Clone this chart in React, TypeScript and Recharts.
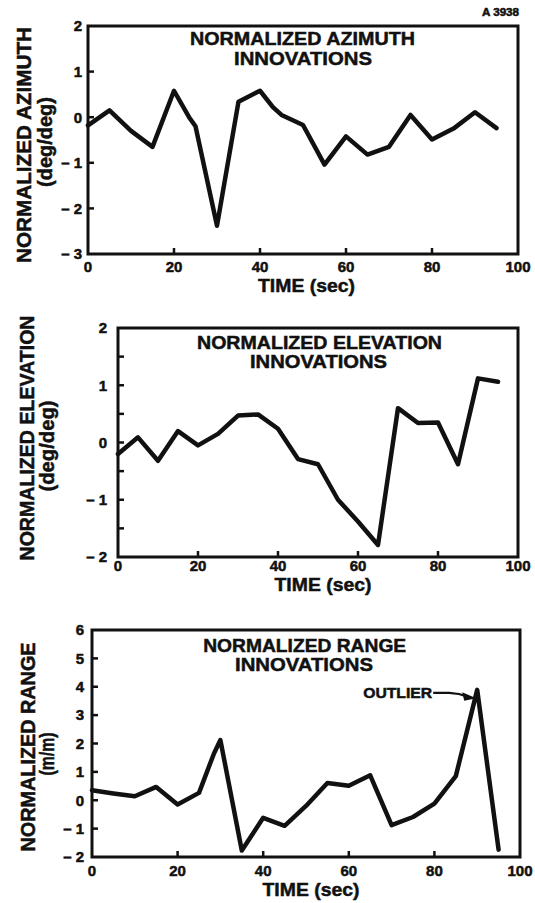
import React from 'react';
import { LineChart, Line, XAxis, YAxis, ReferenceArea, ReferenceDot } from 'recharts';

const FONT = '"Liberation Sans", Arial, Helvetica, sans-serif';
const INK = '#111';

// ---- shared time axis ----
const timeTicks = [0, 20, 40, 60, 80, 100];

// ---- azimuth innovations ----
const azimuthTimes = [0, 5, 10, 15, 20, 23.5, 25, 30, 35, 40, 43, 45, 50, 55, 60, 65, 70, 75, 80, 85, 90, 95];
const azimuthValues = [-0.18, 0.15, -0.3, -0.65, 0.58, 0.0, -0.2, -2.38, 0.34, 0.58, 0.22, 0.05, -0.17, -1.04, -0.42, -0.82, -0.65, 0.05, -0.49, -0.25, 0.11, -0.24];
const azimuthTicks = [-3, -2, -1, 0, 1, 2];

// ---- elevation innovations ----
const elevationTimes = [0, 5, 10, 15, 20, 25, 30, 35, 40, 45, 50, 55, 60, 65, 70, 75, 80, 85, 90, 95];
const elevationValues = [-0.2, 0.09, -0.32, 0.2, -0.05, 0.15, 0.47, 0.49, 0.24, -0.29, -0.38, -1.0, -1.38, -1.79, 0.6, 0.34, 0.35, -0.38, 1.12, 1.06];
const elevationTicks = [-2, -1.5, -1, -0.5, 0, 0.5, 1, 1.5, 2];

// ---- range innovations ----
const rangeTimes = [0, 5, 10, 15, 20, 25, 28.5, 30, 35, 40, 45, 50, 55, 60, 65, 70, 75, 80, 85, 90, 95];
const rangeValues = [0.35, 0.24, 0.14, 0.47, -0.15, 0.26, 1.65, 2.12, -1.77, -0.62, -0.9, -0.2, 0.61, 0.51, 0.88, -0.88, -0.59, -0.12, 0.85, 3.89, -1.74];
const rangeTicks = [-2, -1, 0, 1, 2, 3, 4, 5, 6];
const outlierTime = 90;
const outlierLabel = 'OUTLIER';

const fmt = (v: number) => (v < 0 ? `\u2013 ${-v}` : `${v}`);

type Layout = {
  top: number;
  height: number;
  plotLeft: number;
  plotTop: number;
  plotRight: number;
  plotBottom: number;
  yTickGap: number;
  xTickBase: number;
  xTitleBase: number;
  xTitleDx: number;
  titleDx: [number, number];
  titleBase: [number, number];
  titleLen: [number, number];
  yTitleX: [number, number];
  yTitleY: [number, number];
  yTitleLen: [number, number];
};

type Spec = {
  times: number[];
  values: number[];
  domain: [number, number];
  ticks: number[];
  title: [string, string];
  yTitle: [string, string];
  layout: Layout;
  outlier?: boolean;
  tag?: string;
};

const specs: Spec[] = [
  {
    times: azimuthTimes,
    values: azimuthValues,
    domain: [-3, 2],
    ticks: azimuthTicks,
    title: ['NORMALIZED AZIMUTH', 'INNOVATIONS'],
    yTitle: ['NORMALIZED AZIMUTH', '(deg/deg)'],
    tag: 'A 3938',
    layout: {
      top: 0, height: 300, plotLeft: 88, plotTop: 26, plotRight: 518, plotBottom: 254,
      yTickGap: 6, xTickBase: 18, xTitleBase: 38, xTitleDx: 3.5,
      titleDx: [214.5, 215], titleBase: [19, 39], titleLen: [225, 138],
      yTitleX: [24, 45], yTitleY: [145, 142], yTitleLen: [236, 90],
    },
  },
  {
    times: elevationTimes,
    values: elevationValues,
    domain: [-2, 2],
    ticks: elevationTicks,
    title: ['NORMALIZED ELEVATION', 'INNOVATIONS'],
    yTitle: ['NORMALIZED ELEVATION', '(deg/deg)'],
    layout: {
      top: 300, height: 300, plotLeft: 118, plotTop: 28, plotRight: 518, plotBottom: 257,
      yTickGap: 11, xTickBase: 14, xTitleBase: 34, xTitleDx: 5,
      titleDx: [201.5, 200.5], titleBase: [21, 40], titleLen: [245, 137],
      yTitleX: [27, 47], yTitleY: [138, 146], yTitleLen: [245, 91],
    },
  },
  {
    times: rangeTimes,
    values: rangeValues,
    domain: [-2, 6],
    ticks: rangeTicks,
    title: ['NORMALIZED RANGE', 'INNOVATIONS'],
    yTitle: ['NORMALIZED RANGE', '(m/m)'],
    outlier: true,
    layout: {
      top: 600, height: 303, plotLeft: 92, plotTop: 30, plotRight: 520, plotBottom: 257,
      yTickGap: 8, xTickBase: 19, xTitleBase: 39, xTitleDx: 5,
      titleDx: [212.7, 212], titleBase: [21.5, 40.5], titleLen: [203, 138],
      yTitleX: [28, 47], yTitleY: [147, 154], yTitleLen: [209, 43],
    },
  },
];

// heavy, slightly spread lettering like the printed figure
const boldText = {
  fontFamily: FONT,
  fontWeight: 700,
  fill: INK,
  stroke: INK,
  strokeWidth: 0.5,
} as const;

function Panel({ spec }: { spec: Spec }) {
  const L = spec.layout;
  const data = spec.times.map((t, i) => ({ t, v: spec.values[i] }));
  const xAxisHeight = 40;

  const yTick = (props: any) => {
    const { x, y, payload } = props;
    const v = payload.value as number;
    const labelled = Number.isInteger(v);
    const edge = v === spec.domain[0] || v === spec.domain[1];
    return (
      <g>
        {!edge && <line x1={x} x2={x + 6} y1={y} y2={y} stroke={INK} strokeWidth={2.5} />}
        {labelled && (
          <text x={x - L.yTickGap} y={y + 5.3} textAnchor="end" fontSize={15} {...boldText}>
            {fmt(v)}
          </text>
        )}
      </g>
    );
  };

  const xTick = (props: any) => {
    const { x, y, payload } = props;
    const v = payload.value as number;
    const inner = v > 0 && v < 100;
    return (
      <g>
        {inner && <line x1={x} x2={x} y1={y} y2={y - 6} stroke={INK} strokeWidth={2.5} />}
        <text x={x} y={y + L.xTickBase} textAnchor="middle" fontSize={15} {...boldText}>
          {v}
        </text>
      </g>
    );
  };

  const xTitle = (props: any) => {
    const vb = props.viewBox;
    return (
      <text
        x={vb.x + vb.width / 2 + L.xTitleDx}
        y={vb.y + L.xTitleBase}
        textAnchor="middle"
        fontSize={19}
        textLength={97}
        lengthAdjust="spacingAndGlyphs"
        {...boldText}
      >
        TIME (sec)
      </text>
    );
  };

  const yTitle = () => (
    <g>
      {spec.yTitle.map((s, i) => (
        <text
          key={s}
          x={L.yTitleX[i]}
          y={L.yTitleY[i]}
          transform={`rotate(-90 ${L.yTitleX[i]} ${L.yTitleY[i]})`}
          textAnchor="middle"
          dominantBaseline="central"
          fontSize={20}
          textLength={L.yTitleLen[i]}
          lengthAdjust="spacingAndGlyphs"
          {...boldText}
        >
          {s}
        </text>
      ))}
    </g>
  );

  const title = (props: any) => {
    const vb = props.viewBox;
    return (
      <g>
        {spec.title.map((s, i) => (
          <text
            key={s}
            x={vb.x + L.titleDx[i]}
            y={vb.y + L.titleBase[i]}
            textAnchor="middle"
            fontSize={19}
            textLength={L.titleLen[i]}
            lengthAdjust="spacingAndGlyphs"
            {...boldText}
          >
            {s}
          </text>
        ))}
        {spec.tag && (
          <text
            x={vb.x + vb.width + 1}
            y={vb.y - 10}
            textAnchor="end"
            fontSize={10}
            textLength={37}
            lengthAdjust="spacingAndGlyphs"
            {...boldText}
          >
            {spec.tag}
          </text>
        )}
      </g>
    );
  };

  const outlierIndex = spec.times.indexOf(outlierTime);

  const outlierShape = (props: any) => {
    const { cx, cy } = props;
    return (
      <g>
        <text
          x={cx - 45}
          y={cy + 8}
          textAnchor="end"
          fontSize={15}
          textLength={69}
          lengthAdjust="spacingAndGlyphs"
          {...boldText}
        >
          {outlierLabel}
        </text>
        <path
          d={`M ${cx - 44} ${cy + 3} L ${cx - 28} ${cy + 3} Q ${cx - 18} ${cy + 3.5} ${cx - 10} ${cy + 6.5}`}
          fill="none"
          stroke={INK}
          strokeWidth={2.2}
        />
        <polygon
          points={`${cx - 1},${cy + 8.5} ${cx - 15},${cy + 2.5} ${cx - 13},${cy + 11}`}
          fill={INK}
        />
      </g>
    );
  };

  return (
    <div style={{ position: 'absolute', left: 0, top: L.top, width: 535, height: L.height }}>
      <LineChart
        width={535}
        height={L.height}
        data={data}
        margin={{
          top: L.plotTop,
          right: 535 - L.plotRight,
          bottom: L.height - L.plotBottom - xAxisHeight,
          left: 0,
        }}
      >
        <XAxis
          dataKey="t"
          type="number"
          domain={[0, 100]}
          ticks={timeTicks}
          interval={0}
          height={xAxisHeight}
          axisLine={false}
          tickLine={false}
          tickSize={0}
          tickMargin={0}
          tick={xTick}
          label={xTitle}
        />
        <YAxis
          type="number"
          domain={spec.domain}
          ticks={spec.ticks}
          interval={0}
          width={L.plotLeft}
          axisLine={false}
          tickLine={false}
          tickSize={0}
          tickMargin={0}
          tick={yTick}
          label={yTitle}
        />
        <Line
          type="linear"
          dataKey="v"
          stroke={INK}
          strokeWidth={4.5}
          strokeLinejoin="round"
          strokeLinecap="round"
          dot={false}
          activeDot={false}
          isAnimationActive={false}
        />
        <ReferenceArea
          x1={0}
          x2={100}
          y1={spec.domain[0]}
          y2={spec.domain[1]}
          fill="none"
          stroke={INK}
          strokeWidth={3}
          ifOverflow="visible"
          label={title}
        />
        {spec.outlier && outlierIndex >= 0 && (
          <ReferenceDot
            x={outlierTime}
            y={spec.values[outlierIndex]}
            r={0}
            ifOverflow="visible"
            shape={outlierShape}
          />
        )}
      </LineChart>
    </div>
  );
}

export default function App() {
  return (
    <div
      style={{
        position: 'absolute',
        left: 0,
        top: 0,
        width: 535,
        height: 903,
        background: '#fff',
        overflow: 'hidden',
      }}
    >
      {specs.map((s) => (
        <Panel key={s.title[0]} spec={s} />
      ))}
    </div>
  );
}
